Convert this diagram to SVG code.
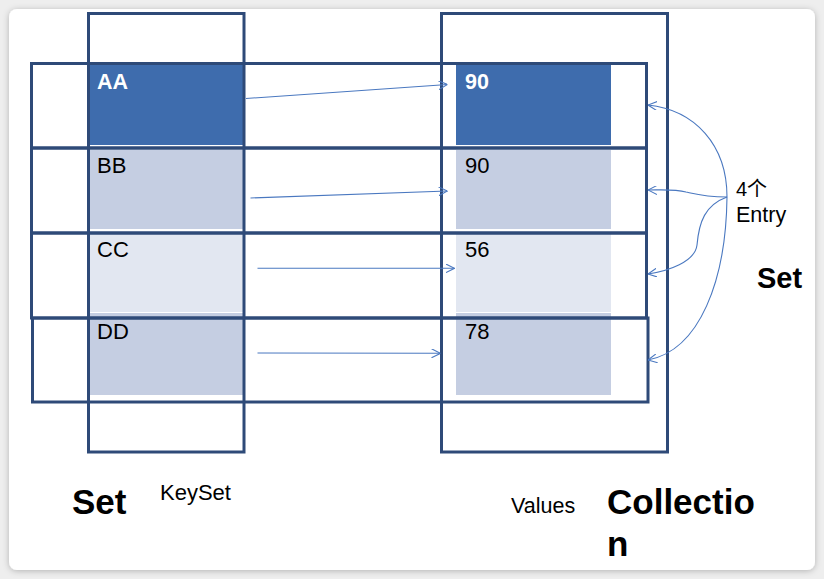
<svg xmlns="http://www.w3.org/2000/svg" width="824" height="579" viewBox="0 0 824 579">
<defs>
<filter id="sh" x="-5%" y="-5%" width="110%" height="110%">
<feDropShadow dx="0" dy="1" stdDeviation="3" flood-color="#000" flood-opacity="0.25"/>
</filter>
<marker id="ah" viewBox="0 0 10 10" refX="10" refY="5" markerWidth="9" markerHeight="9" markerUnits="userSpaceOnUse" orient="auto">
<path d="M0,0 L10,5 L0,10" fill="none" stroke="#4a78c0" stroke-width="1.2"/>
</marker>
</defs>
<style>
.box{fill:none;stroke:#2e4a78;stroke-width:3}
.t{font-family:"Liberation Sans",Arial,sans-serif;font-size:22px;fill:#000}
.tw{font-family:"Liberation Sans",Arial,sans-serif;font-size:21.5px;font-weight:bold;fill:#fff}
.big{font-family:"Liberation Sans",Arial,sans-serif;font-size:35px;font-weight:bold;fill:#000}
.con{fill:none;stroke:#4a78c0;stroke-width:1.1;marker-end:url(#ah)}
</style>
<rect x="0" y="0" width="824" height="579" fill="#eeeeee"/>
<rect x="9" y="9" width="806" height="561" rx="8" fill="#ffffff" filter="url(#sh)"/>

<g id="cells">
<rect x="90" y="65" width="153" height="80" fill="#3e6cad"/>
<rect x="90" y="150" width="153" height="79" fill="#c5cee2"/>
<rect x="90" y="234" width="153" height="78" fill="#e2e7f1"/>
<rect x="90" y="313" width="153" height="82" fill="#c5cee2"/>
<rect x="456" y="65" width="155" height="80" fill="#3e6cad"/>
<rect x="456" y="150" width="155" height="79" fill="#c5cee2"/>
<rect x="456" y="234" width="155" height="78" fill="#e2e7f1"/>
<rect x="456" y="313" width="155" height="82" fill="#c5cee2"/>
</g>

<g id="keyset">
<rect class="box" x="88.5" y="13.5" width="155.5" height="438.5"/>
</g>
<g id="values">
<rect class="box" x="441.5" y="13.5" width="226" height="438.5"/>
</g>
<g id="entry1"><rect class="box" x="31.5" y="63.5" width="615" height="84.5"/></g>
<g id="entry2"><rect class="box" x="31.5" y="148" width="615" height="85"/></g>
<g id="entry3"><rect class="box" x="31.5" y="233" width="615" height="85"/></g>
<g id="entry4"><rect class="box" x="32.5" y="318" width="615.5" height="84"/></g>

<g id="labels">
<text class="tw" x="97" y="89">AA</text>
<text class="t" x="97" y="172.5">BB</text>
<text class="t" x="97" y="256.5">CC</text>
<text class="t" x="97" y="339">DD</text>
<text class="tw" x="465" y="89">90</text>
<text class="t" x="465" y="172.5">90</text>
<text class="t" x="465" y="256.5">56</text>
<text class="t" x="465" y="339">78</text>
<text class="t" x="736" y="196" style="font-family:'Liberation Sans','Noto Sans CJK SC',sans-serif;font-size:20px">4个</text>
<text class="t" x="736" y="222" style="font-size:21.5px">Entry</text>
<text class="big" x="757" y="288" style="font-size:29px">Set</text>
<text class="big" x="72" y="514">Set</text>
<text class="t" x="160" y="500">KeySet</text>
<text class="t" x="511" y="513" style="font-size:21.5px">Values</text>
<text class="big" x="607" y="514">Collectio</text>
<text class="big" x="607" y="556">n</text>
</g>

<g id="connectors">
<line class="con" x1="246" y1="98.5" x2="447.5" y2="84.5"/>
<line class="con" x1="250.5" y1="198" x2="447.5" y2="191"/>
<line class="con" x1="257.5" y1="268.3" x2="454.5" y2="268.3"/>
<line class="con" x1="257.5" y1="353" x2="440.5" y2="353.3"/>
<path class="con" d="M727,197 C727,145 695,110 648,105"/>
<path class="con" d="M727,197 C705,197 695,194 686,192 C675,189 662,190 648,190"/>
<path class="con" d="M727,197 C705,205 699,222 697,245 C695,262 668,271 648,274"/>
<path class="con" d="M727,197 C726,280 700,350 648,360"/>
</g>
</svg>
